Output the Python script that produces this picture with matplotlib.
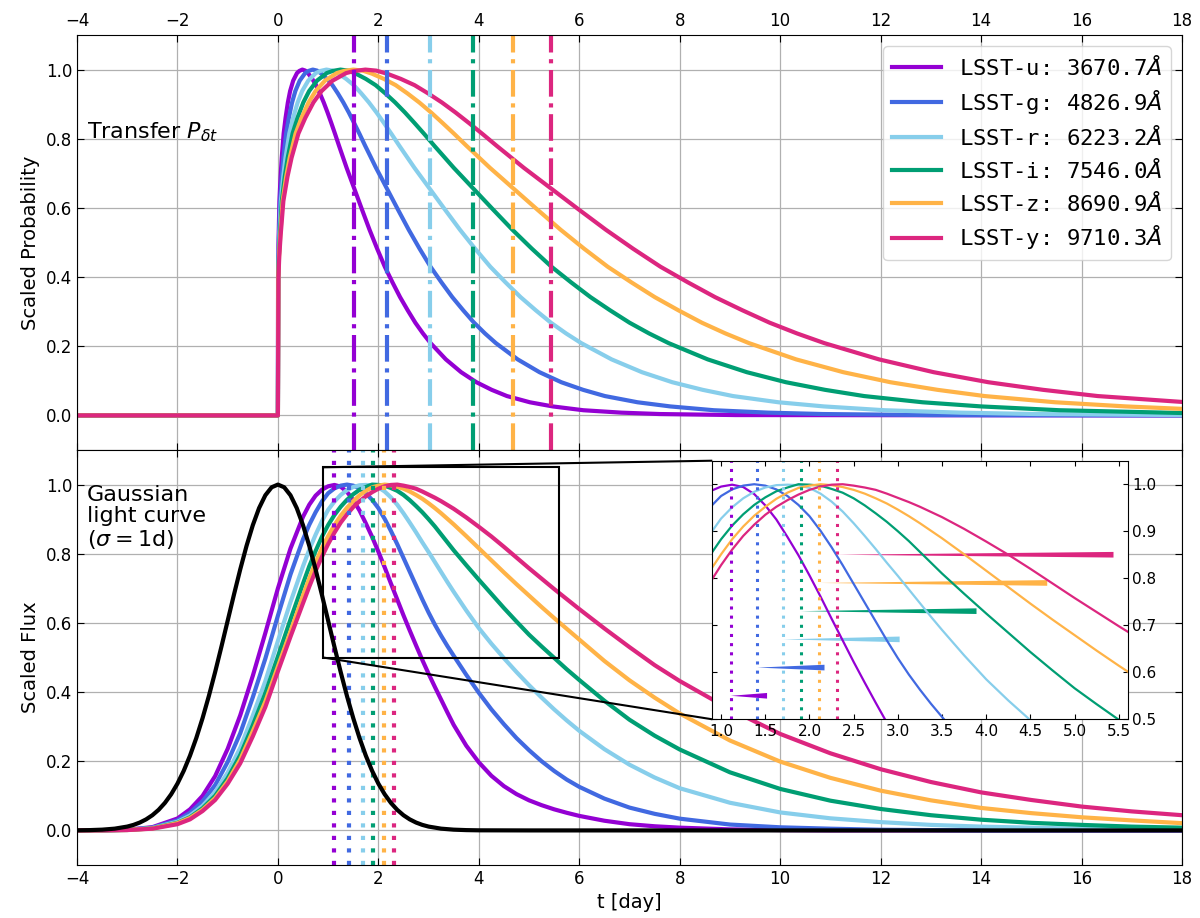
import matplotlib
matplotlib.use("Agg")
import matplotlib.pyplot as plt
from mpl_toolkits.axes_grid1.inset_locator import mark_inset

# ---------------- data ----------------
band_names = ["LSST-u", "LSST-g", "LSST-r", "LSST-i", "LSST-z", "LSST-y"]
band_waves = ["3670.7", "4826.9", "6223.2", "7546.0", "8690.9", "9710.3"]
band_colors = ["#9400D3", "#4169E1", "#87CEEB", "#009E73", "#FFB347", "#DC267F"]
mean_lags = [1.52, 2.17, 3.02, 3.89, 4.69, 5.44]      # dash-dot lines (top)
flux_peaks = [1.11, 1.41, 1.70, 1.90, 2.11, 2.31]     # dotted lines (bottom)

# top panel: scaled transfer functions P_dt(t)
trans_t_u = [-4.0, 0.0, 0.003, 0.008, 0.015, 0.030, 0.053, 0.076, 0.114, 0.152, 0.198, 0.243, 0.304,
             0.380, 0.426, 0.486, 0.547, 0.608, 0.684, 0.760, 0.836, 0.912, 0.988, 1.064, 1.140,
             1.216, 1.292, 1.368, 1.444, 1.520, 1.672, 1.824, 1.976, 2.128, 2.280, 2.432, 2.584,
             2.736, 2.888, 3.040, 3.344, 3.648, 3.952, 4.256, 4.560, 5.016, 5.472, 6.080, 6.840,
             7.600, 9.120, 18.0]
trans_p_u = [0.0, 0.0, 0.40, 0.46, 0.52, 0.62, 0.69, 0.745, 0.815, 0.86, 0.905, 0.938, 0.968, 0.99,
             0.996, 1.0, 0.997, 0.988, 0.973, 0.955, 0.931, 0.905, 0.876, 0.845, 0.813, 0.78, 0.748,
             0.716, 0.686, 0.656, 0.596, 0.537, 0.482, 0.43, 0.385, 0.342, 0.304, 0.268, 0.237,
             0.209, 0.162, 0.125, 0.096, 0.074, 0.056, 0.038, 0.026, 0.015, 0.008, 0.004, 0.001, 0.0]
trans_t_g = [-4.0, 0.0, 0.004, 0.011, 0.022, 0.043, 0.076, 0.109, 0.163, 0.217, 0.282, 0.347, 0.434,
             0.543, 0.608, 0.694, 0.781, 0.868, 0.977, 1.085, 1.194, 1.302, 1.411, 1.519, 1.628,
             1.736, 1.845, 1.953, 2.062, 2.170, 2.387, 2.604, 2.821, 3.038, 3.255, 3.472, 3.689,
             3.906, 4.123, 4.340, 4.774, 5.208, 5.642, 6.076, 6.510, 7.161, 7.812, 8.680, 9.765,
             10.850, 13.020, 18.0]
trans_p_g = [0.0, 0.0, 0.40, 0.46, 0.52, 0.62, 0.69, 0.745, 0.815, 0.86, 0.905, 0.938, 0.968, 0.99,
             0.996, 1.0, 0.997, 0.988, 0.973, 0.955, 0.931, 0.905, 0.876, 0.845, 0.813, 0.78, 0.748,
             0.716, 0.686, 0.656, 0.596, 0.537, 0.482, 0.43, 0.385, 0.342, 0.304, 0.268, 0.237,
             0.209, 0.162, 0.125, 0.096, 0.074, 0.056, 0.038, 0.026, 0.015, 0.008, 0.004, 0.001, 0.0]
trans_t_r = [-4.0, 0.0, 0.006, 0.015, 0.030, 0.060, 0.106, 0.151, 0.227, 0.302, 0.393, 0.483, 0.604,
             0.755, 0.846, 0.966, 1.087, 1.208, 1.359, 1.510, 1.661, 1.812, 1.963, 2.114, 2.265,
             2.416, 2.567, 2.718, 2.869, 3.020, 3.322, 3.624, 3.926, 4.228, 4.530, 4.832, 5.134,
             5.436, 5.738, 6.040, 6.644, 7.248, 7.852, 8.456, 9.060, 9.966, 10.872, 12.080, 13.590,
             15.100, 18.0]
trans_p_r = [0.0, 0.0, 0.40, 0.46, 0.52, 0.62, 0.69, 0.745, 0.815, 0.86, 0.905, 0.938, 0.968, 0.99,
             0.996, 1.0, 0.997, 0.988, 0.973, 0.955, 0.931, 0.905, 0.876, 0.845, 0.813, 0.78, 0.748,
             0.716, 0.686, 0.656, 0.596, 0.537, 0.482, 0.43, 0.385, 0.342, 0.304, 0.268, 0.237,
             0.209, 0.162, 0.125, 0.096, 0.074, 0.056, 0.038, 0.026, 0.015, 0.008, 0.004, 0.001]
trans_t_i = [-4.0, 0.0, 0.008, 0.019, 0.039, 0.078, 0.136, 0.195, 0.292, 0.389, 0.506, 0.622, 0.778,
             0.973, 1.089, 1.245, 1.400, 1.556, 1.751, 1.945, 2.140, 2.334, 2.529, 2.723, 2.918,
             3.112, 3.307, 3.501, 3.696, 3.890, 4.279, 4.668, 5.057, 5.446, 5.835, 6.224, 6.613,
             7.002, 7.391, 7.780, 8.558, 9.336, 10.114, 10.892, 11.670, 12.837, 14.004, 15.560, 18.0]
trans_p_i = [0.0, 0.0, 0.40, 0.46, 0.52, 0.62, 0.69, 0.745, 0.815, 0.86, 0.905, 0.938, 0.968, 0.99,
             0.996, 1.0, 0.997, 0.988, 0.973, 0.955, 0.931, 0.905, 0.876, 0.845, 0.813, 0.78, 0.748,
             0.716, 0.686, 0.656, 0.596, 0.537, 0.482, 0.43, 0.385, 0.342, 0.304, 0.268, 0.237,
             0.209, 0.162, 0.125, 0.096, 0.074, 0.056, 0.038, 0.026, 0.015, 0.007]
trans_t_z = [-4.0, 0.0, 0.009, 0.023, 0.047, 0.094, 0.164, 0.235, 0.352, 0.469, 0.610, 0.750, 0.938,
             1.173, 1.313, 1.501, 1.688, 1.876, 2.111, 2.345, 2.580, 2.814, 3.049, 3.283, 3.518,
             3.752, 3.987, 4.221, 4.456, 4.690, 5.159, 5.628, 6.097, 6.566, 7.035, 7.504, 7.973,
             8.442, 8.911, 9.380, 10.318, 11.256, 12.194, 13.132, 14.070, 15.477, 16.884, 18.0]
trans_p_z = [0.0, 0.0, 0.40, 0.46, 0.52, 0.62, 0.69, 0.745, 0.815, 0.86, 0.905, 0.938, 0.968, 0.99,
             0.996, 1.0, 0.997, 0.988, 0.973, 0.955, 0.931, 0.905, 0.876, 0.845, 0.813, 0.78, 0.748,
             0.716, 0.686, 0.656, 0.596, 0.537, 0.482, 0.43, 0.385, 0.342, 0.304, 0.268, 0.237,
             0.209, 0.162, 0.125, 0.096, 0.074, 0.056, 0.038, 0.026, 0.019]
trans_t_y = [-4.0, 0.0, 0.011, 0.027, 0.054, 0.109, 0.190, 0.272, 0.408, 0.544, 0.707, 0.870, 1.088,
             1.360, 1.523, 1.741, 1.958, 2.176, 2.448, 2.720, 2.992, 3.264, 3.536, 3.808, 4.080,
             4.352, 4.624, 4.896, 5.168, 5.440, 5.984, 6.528, 7.072, 7.616, 8.160, 8.704, 9.248,
             9.792, 10.336, 10.880, 11.968, 13.056, 14.144, 15.232, 16.320, 18.0]
trans_p_y = [0.0, 0.0, 0.40, 0.46, 0.52, 0.62, 0.69, 0.745, 0.815, 0.86, 0.905, 0.938, 0.968, 0.99,
             0.996, 1.0, 0.997, 0.988, 0.973, 0.955, 0.931, 0.905, 0.876, 0.845, 0.813, 0.78, 0.748,
             0.716, 0.686, 0.656, 0.596, 0.537, 0.482, 0.43, 0.385, 0.342, 0.304, 0.268, 0.237,
             0.209, 0.162, 0.125, 0.096, 0.074, 0.056, 0.039]

# bottom panel: scaled light curves (Gaussian convolved with P_dt)
flux_t = [-4.0, -3.5, -3.0, -2.5, -2.0, -1.75, -1.5, -1.25, -1.0, -0.75, -0.5, -0.25,
          0.0, 0.25, 0.5, 0.625, 0.75, 0.875, 1.0, 1.125, 1.25, 1.375, 1.5, 1.625, 1.75, 1.875,
          2.0, 2.125, 2.25, 2.375, 2.5, 2.625, 2.75, 2.875, 3.0, 3.125, 3.25, 3.375, 3.5,
          3.75, 4.0, 4.25, 4.5, 4.75, 5.0, 5.25, 5.5, 5.75, 6.0,
          6.5, 7.0, 7.5, 8.0, 9.0, 10.0, 11.0, 12.0, 13.0, 14.0, 15.0, 16.0, 17.0, 18.0]
flux_u = [0.0, 0.0005, 0.002, 0.0094, 0.0345, 0.061, 0.10, 0.157, 0.236, 0.333, 0.447, 0.571,
          0.70, 0.815, 0.907, 0.942, 0.968, 0.985, 0.995, 0.999, 0.994, 0.979, 0.955, 0.925, 0.888,
          0.849, 0.806, 0.761, 0.714, 0.668, 0.622, 0.578, 0.535, 0.493, 0.453, 0.415, 0.378, 0.341,
          0.305, 0.245, 0.197, 0.158, 0.128, 0.105, 0.087, 0.073, 0.061, 0.051, 0.042,
          0.028, 0.018, 0.012, 0.008, 0.003, 0.001, 0.0, 0.0, 0.0, 0.0, 0.0, 0.0, 0.0, 0.0]
flux_g = [0.0, 0.0004, 0.0018, 0.008, 0.029, 0.051, 0.084, 0.131, 0.198, 0.281, 0.385, 0.497,
          0.621, 0.74, 0.842, 0.884, 0.92, 0.951, 0.975, 0.989, 0.997, 1.0, 0.997, 0.989, 0.975,
          0.956, 0.932, 0.901, 0.866, 0.828, 0.788, 0.748, 0.708, 0.668, 0.63, 0.595, 0.563, 0.533,
          0.505, 0.45, 0.398, 0.35, 0.307, 0.267, 0.232, 0.2, 0.172, 0.147, 0.126,
          0.092, 0.066, 0.048, 0.034, 0.017, 0.009, 0.005, 0.002, 0.001, 0.0, 0.0, 0.0, 0.0, 0.0]
flux_r = [0.0, 0.0003, 0.0015, 0.007, 0.025, 0.043, 0.071, 0.111, 0.167, 0.239, 0.332, 0.432,
          0.548, 0.66, 0.764, 0.812, 0.855, 0.894, 0.927, 0.951, 0.97, 0.984, 0.993, 0.998, 0.999,
          0.998, 0.992, 0.98, 0.963, 0.942, 0.917, 0.89, 0.862, 0.833, 0.805, 0.776, 0.747, 0.718,
          0.69, 0.636, 0.585, 0.54, 0.498, 0.458, 0.42, 0.384, 0.35, 0.318, 0.288,
          0.235, 0.19, 0.153, 0.122, 0.08, 0.052, 0.035, 0.024, 0.016, 0.011, 0.008, 0.005, 0.003, 0.002]
flux_i = [0.0, 0.0003, 0.0013, 0.006, 0.022, 0.038, 0.064, 0.10, 0.151, 0.218, 0.304, 0.397,
          0.503, 0.61, 0.714, 0.764, 0.808, 0.849, 0.883, 0.912, 0.936, 0.956, 0.972, 0.985, 0.993,
          1.0, 0.999, 0.997, 0.99, 0.982, 0.97, 0.955, 0.938, 0.92, 0.90, 0.879, 0.856, 0.833,
          0.81, 0.767, 0.725, 0.684, 0.643, 0.604, 0.566, 0.532, 0.499, 0.466, 0.435,
          0.375, 0.32, 0.274, 0.234, 0.168, 0.12, 0.086, 0.062, 0.044, 0.031, 0.022, 0.016, 0.011, 0.008]
flux_z = [0.0, 0.0002, 0.0012, 0.0055, 0.021, 0.036, 0.06, 0.0935, 0.142, 0.205, 0.287, 0.373,
          0.474, 0.575, 0.679, 0.729, 0.775, 0.816, 0.851, 0.883, 0.91, 0.933, 0.952, 0.969, 0.982,
          0.992, 0.997, 1.0, 0.998, 0.994, 0.988, 0.98, 0.97, 0.959, 0.946, 0.932, 0.917, 0.901,
          0.885, 0.851, 0.816, 0.781, 0.746, 0.712, 0.679, 0.646, 0.614, 0.583, 0.552,
          0.49, 0.434, 0.384, 0.338, 0.26, 0.199, 0.152, 0.115, 0.087, 0.065, 0.05, 0.038, 0.029, 0.021]
flux_y = [0.0, 0.0002, 0.001, 0.005, 0.018, 0.032, 0.056, 0.088, 0.135, 0.194, 0.272, 0.357,
          0.46, 0.56, 0.657, 0.705, 0.75, 0.791, 0.828, 0.861, 0.89, 0.914, 0.935, 0.952, 0.966,
          0.978, 0.988, 0.995, 0.999, 1.0, 0.997, 0.993, 0.988, 0.98, 0.971, 0.962, 0.952, 0.941,
          0.93, 0.905, 0.878, 0.85, 0.82, 0.789, 0.758, 0.728, 0.698, 0.669, 0.64,
          0.584, 0.53, 0.478, 0.432, 0.35, 0.279, 0.223, 0.177, 0.14, 0.11, 0.088, 0.069, 0.055, 0.044]

# black Gaussian driving light curve (sigma = 1 d)
gauss_t = [-4.0, -3.75, -3.5, -3.25, -3.0, -2.875, -2.75, -2.625, -2.5, -2.375, -2.25, -2.125,
           -2.0, -1.875, -1.75, -1.625, -1.5, -1.375, -1.25, -1.125, -1.0, -0.875, -0.75, -0.625,
           -0.5, -0.375, -0.25, -0.125, 0.0, 0.125, 0.25, 0.375, 0.5, 0.625, 0.75, 0.875, 1.0,
           1.125, 1.25, 1.375, 1.5, 1.625, 1.75, 1.875, 2.0, 2.125, 2.25, 2.375, 2.5, 2.625, 2.75,
           2.875, 3.0, 3.25, 3.5, 3.75, 4.0, 5.0, 18.0]
gauss_f = [0.0003, 0.0009, 0.0022, 0.0051, 0.0111, 0.0160, 0.0228, 0.0319, 0.0439, 0.0596, 0.0796,
           0.1046, 0.1353, 0.1724, 0.2163, 0.2671, 0.3247, 0.3886, 0.4578, 0.5311, 0.6065, 0.6819,
           0.7548, 0.8226, 0.8825, 0.9321, 0.9692, 0.9922, 1.0, 0.9922, 0.9692, 0.9321, 0.8825,
           0.8226, 0.7548, 0.6819, 0.6065, 0.5311, 0.4578, 0.3886, 0.3247, 0.2671, 0.2163, 0.1724,
           0.1353, 0.1046, 0.0796, 0.0596, 0.0439, 0.0319, 0.0228, 0.0160, 0.0111, 0.0051, 0.0022,
           0.0009, 0.0003, 0.0, 0.0]

trans_t = [trans_t_u, trans_t_g, trans_t_r, trans_t_i, trans_t_z, trans_t_y]
trans_p = [trans_p_u, trans_p_g, trans_p_r, trans_p_i, trans_p_z, trans_p_y]
flux_all = [flux_u, flux_g, flux_r, flux_i, flux_z, flux_y]

# ---------------- figure ----------------
fig = plt.figure(figsize=(12, 9.18), dpi=100)
ax1 = fig.add_axes([0.06417, 0.50980, 0.92083, 0.45207])
ax2 = fig.add_axes([0.06417, 0.05773, 0.92083, 0.45207], sharex=ax1)

for ax in (ax1, ax2):
    ax.set_xlim(-4, 18)
    ax.set_ylim(-0.1, 1.1)
    ax.set_xticks(range(-4, 19, 2))
    ax.set_yticks([0.0, 0.2, 0.4, 0.6, 0.8, 1.0])
    ax.grid(True, color="#b0b0b0", lw=0.9)
    ax.tick_params(direction="in", top=True, right=True, length=5, labelsize=12)

ax1.tick_params(labeltop=True, labelbottom=False)
ax2.tick_params(labeltop=False, labelbottom=True)

# top panel
for i in range(6):
    label = band_names[i] + ": " + band_waves[i] + r"$\AA$"
    ax1.plot(trans_t[i], trans_p[i], color=band_colors[i], lw=3, label=label)
for i in range(6):
    ax1.axvline(mean_lags[i], color=band_colors[i], lw=3, ls="-.")
ax1.set_ylabel("Scaled Probability", fontsize=14)
ax1.text(-3.8, 0.80, r"Transfer $P_{\delta t}$", fontsize=16)
ax1.legend(loc="upper right", prop={"family": "DejaVu Sans Mono", "size": 16},
           handlelength=2.2, labelspacing=0.4)

# bottom panel
for i in range(6):
    ax2.plot(flux_t, flux_all[i], color=band_colors[i], lw=3)
ax2.plot(gauss_t, gauss_f, color="black", lw=3, zorder=3)
for i in range(6):
    ax2.axvline(flux_peaks[i], color=band_colors[i], lw=3, ls=(0, (1, 2)))
ax2.set_ylabel("Scaled Flux", fontsize=14)
ax2.set_xlabel("t [day]", fontsize=14)
ax2.text(-3.8, 1.0, "Gaussian\nlight curve\n($\\sigma=1$d)", fontsize=16, va="top",
         linespacing=1.1)

# inset
axins = ax2.inset_axes([0.5749, 0.3511, 0.3759, 0.6231])
for i in range(6):
    axins.plot(flux_t, flux_all[i], color=band_colors[i], lw=1.6)
for i in range(6):
    axins.axvline(flux_peaks[i], color=band_colors[i], lw=2.2, ls=(0, (1, 2)))
for i in range(6):
    y_level = 0.55 + 0.06 * i
    length = mean_lags[i] - flux_peaks[i]
    axins.arrow(mean_lags[i], y_level, -length, 0.0, width=0.0015, head_width=0.012,
                head_length=length, length_includes_head=True, color=band_colors[i], lw=0)
axins.set_xlim(0.9, 5.6)
axins.set_ylim(0.5, 1.05)
axins.set_xticks([1.0, 1.5, 2.0, 2.5, 3.0, 3.5, 4.0, 4.5, 5.0, 5.5])
axins.set_yticks([0.5, 0.6, 0.7, 0.8, 0.9, 1.0])
axins.tick_params(direction="in", top=True, right=True, left=True, bottom=True,
                  labelleft=False, labelright=True, labelsize=11)
pp, c1, c2 = mark_inset(ax2, axins, loc1=2, loc2=3, fc="none", ec="k", lw=1.5)
for art in (pp, c1, c2):
    art.set_zorder(5)

fig.savefig("out.png", dpi=100)
